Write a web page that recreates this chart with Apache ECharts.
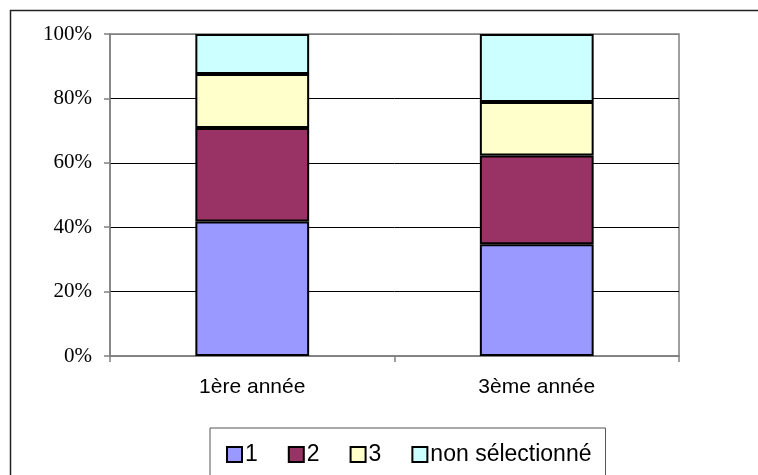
<!DOCTYPE html>
<html>
<head>
<meta charset="utf-8">
<script src="https://cdn.jsdelivr.net/npm/echarts@6/dist/echarts.min.js"></script>
<style>html,body{margin:0;padding:0;background:#fff}#c{width:758px;height:475px}</style>
</head>
<body>
<div id="c"></div>
<script>
var categories = ['1ère année', '3ème année'];
var seriesNames = ['1', '2', '3', 'non sélectionné'];
var s1 = [41.8, 34.7];
var s2 = [29.0, 27.6];
var s3 = [16.8, 16.6];
var s4 = [12.4, 21.1];
var colors = ['#9999FF', '#993366', '#FFFFCC', '#CCFFFF'];
var yTicks = [0, 20, 40, 60, 80, 100];

var data = [s1, s2, s3, s4];
var chart = echarts.init(document.getElementById('c'));
chart.setOption({
  animation: false,
  backgroundColor: '#fff',
  graphic: [{
    type: 'rect', shape: {x: 10.5, y: 10.5, width: 800, height: 500},
    style: {fill: 'none', stroke: '#222', lineWidth: 1.5}, z: -1
  }],
  grid: {left: 110, right: 79, top: 34, bottom: 119, show: true, borderColor: '#808080', borderWidth: 1.5, backgroundColor: 'transparent'},
  legend: {
    data: seriesNames, left: 210, top: 428, orient: 'horizontal',
    padding: [15, 14, 40, 16], itemGap: 30, itemWidth: 15, itemHeight: 15,
    borderColor: '#555', borderWidth: 1, icon: 'rect',
    itemStyle: {borderColor: '#000', borderWidth: 2},
    textStyle: {fontFamily: 'Liberation Sans', fontSize: 23, color: '#000', padding: [0,0,0,-2]}
  },
  xAxis: {
    type: 'category', data: categories,
    axisLine: {lineStyle: {color: '#808080', width: 1.5}},
    axisTick: {show: true, length: 6, lineStyle: {color: '#808080', width: 1.5}},
    axisLabel: {fontFamily: 'Liberation Sans', fontSize: 21, color: '#000', margin: 21}
  },
  yAxis: {
    type: 'value', min: 0, max: 100, interval: 20,
    axisLine: {show: true, lineStyle: {color: '#808080', width: 1.5}},
    axisTick: {show: true, length: 6, lineStyle: {color: '#808080', width: 1.5}},
    axisLabel: {fontFamily: 'Liberation Serif', fontSize: 21, color: '#000', margin: 18,
      formatter: function (v) { return yTicks.indexOf(v) >= 0 ? v + '%' : ''; }},
    splitLine: {show: true, lineStyle: {color: ['#808080', '#000', '#000', '#000', '#000', '#808080'], width: 1}}
  },
  series: seriesNames.map(function (n, i) {
    return {
      name: n, type: 'bar', stack: 'total', data: data[i],
      barCategoryGap: '60%',
      itemStyle: {color: colors[i], borderColor: '#000', borderWidth: 2}
    };
  })
});
</script>
</body>
</html>
